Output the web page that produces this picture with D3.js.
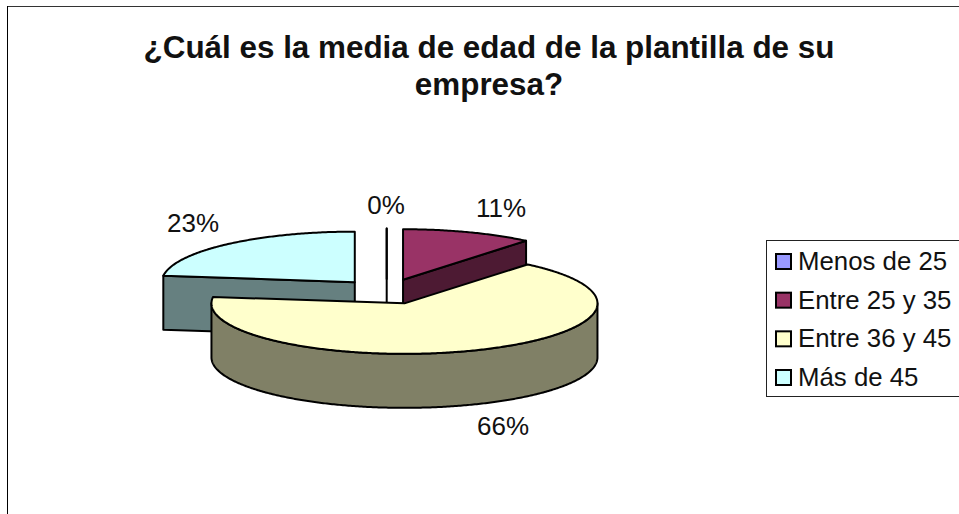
<!DOCTYPE html>
<html>
<head>
<meta charset="utf-8">
<script src="https://cdn.jsdelivr.net/npm/d3@7"></script>
<style>
  html, body { margin: 0; padding: 0; background: #fff; }
  svg { display: block; }
  text { font-family: "Liberation Sans", Arial, sans-serif; fill: #111; }
</style>
</head>
<body>
<svg id="chart" width="959" height="514"></svg>
<script>
// Survey answers, in percent, going clockwise from twelve o'clock
const categories = ["Menos de 25", "Entre 25 y 35", "Entre 36 y 45", "Más de 45"];
const shares = [0, 11, 66, 23];
const topColors = ["#9999ff", "#993366", "#ffffcc", "#ccffff"];
const sideColors = ["#4d4d80", "#4d1a33", "#808066", "#668080"];
const titleLines = ["¿Cuál es la media de edad de la plantilla de su", "empresa?"];
const labelSuffix = "%";

const svg = d3.select("#chart");

// Outer frame: only the top and left edges fall inside the page
svg.append("line").attr("x1", 7.5).attr("x2", 959).attr("y1", 6.5).attr("y2", 6.5)
  .attr("stroke", "#333").attr("stroke-width", 1);
svg.append("line").attr("x1", 7.5).attr("x2", 7.5).attr("y1", 6).attr("y2", 514)
  .attr("stroke", "#000").attr("stroke-width", 1);

// Title
svg.append("g").selectAll("text").data(titleLines).join("text")
  .attr("x", 489).attr("y", (d, i) => 58 + i * 37)
  .attr("text-anchor", "middle")
  .attr("font-size", 31.4).attr("font-weight", "bold")
  .text(d => d);

// Tilted pie: unit-circle coordinates mapped to the flattened ellipse
const rx = 193, ry = 50.5, cx = 386.7, cy = 291.6, depth = 54, explode = 0.25;
const x = d3.scaleLinear().domain([-1, 1]).range([cx - rx, cx + rx]);
const y = d3.scaleLinear().domain([-1, 1]).range([cy + ry, cy - ry]);

const slices = d3.pie().sort(null).value(d => d)(shares)
  .map((s, i) => ({ ...s, i }));

const unit = (angle, r = 1) => [r * Math.sin(angle), r * Math.cos(angle)];

const arcSamples = (a0, a1) => {
  const n = Math.max(2, Math.ceil(Math.abs(a1 - a0) / 0.01));
  return d3.range(n + 1).map(k => a0 + (a1 - a0) * k / n);
};

// Back slices first so the nearer ones cover them
const drawOrder = [3, 0, 1, 2];
const pie = svg.append("g")
  .attr("stroke", "#000").attr("stroke-width", 2).attr("stroke-linejoin", "round");

drawOrder.forEach(idx => {
  const s = slices[idx];
  const mid = (s.startAngle + s.endAngle) / 2;
  const [ox, oy] = unit(mid, explode);
  const px = (ux, uy, drop = 0) => [x(ux + ox), y(uy + oy) + drop];
  const line = d3.line();
  const centre = px(0, 0);
  const centreLow = px(0, 0, depth);

  // Radial wall at a given angle
  const wall = angle => {
    const [ux, uy] = unit(angle);
    const rim = px(ux, uy), rimLow = px(ux, uy, depth);
    pie.append("path").attr("fill", sideColors[idx])
      .attr("d", line([centre, rim, rimLow, centreLow]) + "Z");
  };
  if (s.startAngle > Math.PI) wall(s.startAngle);
  if (s.endAngle < Math.PI) wall(s.endAngle);

  // Cylindrical wall on the part of the rim that faces the viewer
  const a0 = Math.max(s.startAngle, Math.PI / 2);
  const a1 = Math.min(s.endAngle, Math.PI * 1.5);
  if (a1 > a0) {
    const rimPts = arcSamples(a0, a1).map(a => unit(a));
    const upper = rimPts.map(([ux, uy]) => px(ux, uy));
    const lower = rimPts.map(([ux, uy]) => px(ux, uy, depth)).reverse();
    pie.append("path").attr("fill", sideColors[idx])
      .attr("d", line(upper.concat(lower)) + "Z");
  }

  // Top surface
  const rim = arcSamples(s.startAngle, s.endAngle).map(a => {
    const [ux, uy] = unit(a);
    return px(ux, uy);
  });
  pie.append("path").attr("fill", topColors[idx])
    .attr("d", line([centre, ...rim]) + "Z");
});

// Percentage labels
const labelPos = [[386, 214], [501, 217], [503, 435], [193, 232]];
svg.append("g").selectAll("text").data(shares).join("text")
  .attr("x", (d, i) => labelPos[i][0])
  .attr("y", (d, i) => labelPos[i][1])
  .attr("text-anchor", "middle")
  .attr("font-size", 26)
  .text(d => d + labelSuffix);

// Legend
const legendX = 766.5, legendTop = 240.5, legendBottom = 396.5;
const legendY = d3.scalePoint().domain(categories)
  .range([legendTop + 21, legendBottom - 19]);
svg.append("rect")
  .attr("x", legendX).attr("y", legendTop)
  .attr("width", 959 - legendX + 5).attr("height", legendBottom - legendTop)
  .attr("fill", "#fff").attr("stroke", "#222").attr("stroke-width", 1);
const entries = svg.append("g").selectAll("g").data(categories).join("g")
  .attr("transform", d => `translate(0,${legendY(d)})`);
entries.append("rect")
  .attr("x", 776).attr("y", -7.5).attr("width", 15).attr("height", 15)
  .attr("fill", (d, i) => topColors[i])
  .attr("stroke", "#000").attr("stroke-width", 2);
entries.append("text")
  .attr("x", 798).attr("y", 8.5)
  .attr("font-size", 25.8)
  .text(d => d);
</script>
</body>
</html>
